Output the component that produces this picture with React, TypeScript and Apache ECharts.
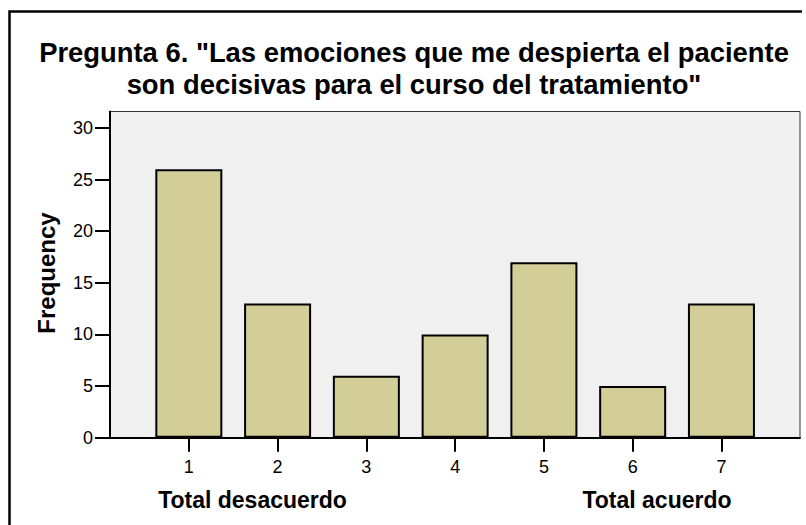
import React, { useEffect, useRef } from "react";
import * as echarts from "echarts";

const categories = [1, 2, 3, 4, 5, 6, 7];
const frequencies = [26, 13, 6, 10, 17, 5, 13];
const yTicks = [0, 5, 10, 15, 20, 25, 30];
const titleLines = [
  'Pregunta 6. "Las emociones que me despierta el paciente',
  'son decisivas para el curso del tratamiento"',
];
const yAxisTitle = "Frequency";
const leftEndLabel = "Total desacuerdo";
const rightEndLabel = "Total acuerdo";

const FONT = "'Liberation Sans', Arial, Helvetica, sans-serif";

export default function App() {
  const ref = useRef<HTMLDivElement>(null);

  useEffect(() => {
    if (!ref.current) return;
    const chart = echarts.init(ref.current, null, { renderer: "svg" });
    const option = {
      animation: false,
      backgroundColor: "#ffffff",
      grid: {
        left: 110,
        top: 111.5,
        right: 6,
        bottom: 87.3,
        show: true,
        backgroundColor: "#f0f0f0",
        borderColor: "#333333",
        borderWidth: 1,
      },
      xAxis: {
        type: "value",
        min: 0.112,
        max: 7.885,
        splitLine: { show: false },
        axisLine: { show: true, lineStyle: { color: "#000", width: 2 } },
        axisTick: {
          show: true,
          customValues: categories,
          length: 14,
          lineStyle: { color: "#000", width: 2 },
        },
        axisLabel: {
          customValues: categories,
          color: "#000",
          fontSize: 18,
          fontFamily: FONT,
          margin: 20,
        },
      },
      yAxis: {
        type: "value",
        min: 0,
        max: 31.6,
        splitLine: { show: false },
        axisLine: { show: true, lineStyle: { color: "#000", width: 2 } },
        axisTick: {
          show: true,
          customValues: yTicks,
          length: 15,
          lineStyle: { color: "#000", width: 2 },
        },
        axisLabel: {
          customValues: yTicks,
          color: "#000",
          fontSize: 18,
          fontFamily: FONT,
          margin: 17,
        },
      },
      series: [
        {
          type: "bar",
          data: categories.map((c, i) => [c, frequencies[i]]),
          barWidth: 67,
          itemStyle: {
            color: "#d3ce98",
            borderColor: "#000",
            borderWidth: 2,
          },
        },
      ],
      graphic: [
        {
          type: "polyline",
          shape: { points: [[9.5, 540], [9.5, 11.5], [802, 11.5]] },
          style: { stroke: "#000", lineWidth: 2.5, fill: null },
          z: 100,
        },
        {
          type: "text",
          x: 414,
          y: 52.5,
          style: {
            text: titleLines[0],
            textAlign: "center",
            textVerticalAlign: "middle",
            font: `bold 27.4px ${FONT}`,
            fill: "#000",
          },
        },
        {
          type: "text",
          x: 414,
          y: 84,
          style: {
            text: titleLines[1],
            textAlign: "center",
            textVerticalAlign: "middle",
            font: `bold 27.4px ${FONT}`,
            fill: "#000",
          },
        },
        {
          type: "text",
          x: 46,
          y: 273,
          rotation: Math.PI / 2,
          style: {
            text: yAxisTitle,
            textAlign: "center",
            textVerticalAlign: "middle",
            font: `bold 24px ${FONT}`,
            fill: "#000",
          },
        },
        {
          type: "text",
          x: 252.5,
          y: 500,
          style: {
            text: leftEndLabel,
            textAlign: "center",
            textVerticalAlign: "middle",
            font: `bold 23px ${FONT}`,
            fill: "#000",
          },
        },
        {
          type: "text",
          x: 657,
          y: 500,
          style: {
            text: rightEndLabel,
            textAlign: "center",
            textVerticalAlign: "middle",
            font: `bold 23px ${FONT}`,
            fill: "#000",
          },
        },
      ],
    };
    chart.setOption(option as any);
    return () => chart.dispose();
  }, []);

  return (
    <div
      ref={ref}
      style={{ position: "absolute", left: 0, top: 0, width: 806, height: 525 }}
    />
  );
}
